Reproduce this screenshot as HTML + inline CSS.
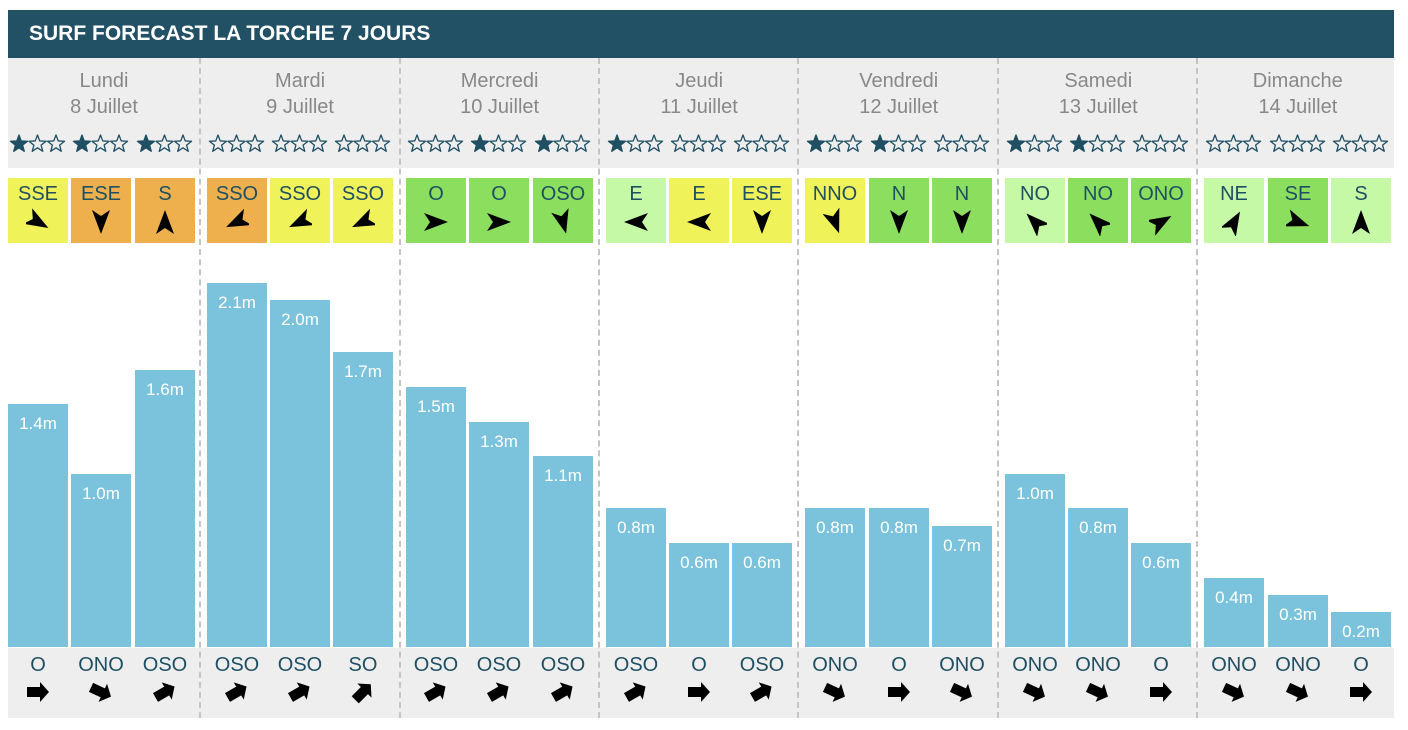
<!DOCTYPE html>
<html><head><meta charset="utf-8"><style>
body{margin:0;width:1408px;height:730px;background:#fff;position:relative;overflow:hidden;font-family:"Liberation Sans",sans-serif}
div{position:absolute;box-sizing:border-box}
.hdr{left:8px;top:10px;width:1386px;height:48px;background:#225064;color:#fff;font-weight:bold;font-size:21px;line-height:48px;padding-left:21px}
.g{background:#eeeeee}
.dn{color:#888;font-size:20px;text-align:center;width:199px}
.bx{width:60px;height:65px;top:178px;color:#1f4f63;font-size:20px;text-align:center;padding-top:5px}
.bar{width:60px;background:#7bc3dc;color:#fff;font-size:17px;text-align:center;padding-top:10px}
.sw{width:60px;color:#1f4f63;font-size:20px;text-align:center;top:654px}
.dv{width:0;border-left:2px dashed #c4c4c4;top:58px;height:660px}
svg{position:absolute}
</style></head><body>
<div class="hdr">SURF FORECAST LA TORCHE 7 JOURS</div>
<div class="g" style="left:8px;top:58px;width:1386px;height:110px"></div>
<div class="g" style="left:8px;top:648px;width:1386px;height:70px"></div>
<script>
const days=[["Lundi","8 Juillet"],["Mardi","9 Juillet"],["Mercredi","10 Juillet"],["Jeudi","11 Juillet"],["Vendredi","12 Juillet"],["Samedi","13 Juillet"],["Dimanche","14 Juillet"]];
const Y="#f0f25a",O="#edb04c",G="#8cde5e",L="#c5f9a6";
const cols=[[Y,O,O],[O,Y,Y],[G,G,G],[L,Y,Y],[Y,G,G],[L,G,G],[L,G,L]];
const stars=[[1,1,1],[0,0,0],[0,1,1],[1,0,0],[1,1,0],[1,1,0],[0,0,0]];
const wind=[["SSE","ESE","S"],["SSO","SSO","SSO"],["O","O","OSO"],["E","E","ESE"],["NNO","N","N"],["NO","NO","ONO"],["NE","SE","S"]];
const wa={SSE:120,ESE:180,S:0,SSO:245,O:90,OSO:165,E:270,NNO:160,N:180,NO:315,ONO:60,NE:30,SE:110};
const h=[[1.4,1.0,1.6],[2.1,2.0,1.7],[1.5,1.3,1.1],[0.8,0.6,0.6],[0.8,0.8,0.7],[1.0,0.8,0.6],[0.4,0.3,0.2]];
const sw=[["O","ONO","OSO"],["OSO","OSO","SO"],["OSO","OSO","OSO"],["OSO","O","OSO"],["ONO","O","ONO"],["ONO","ONO","O"],["ONO","ONO","O"]];
const sa={O:0,ONO:25,OSO:-30,SO:-45};
let sp=[];for(let k=0;k<10;k++){const r=k%2?3.8:9,a=-Math.PI/2+k*Math.PI/5;sp.push((r*Math.cos(a)).toFixed(2)+","+(r*Math.sin(a)).toFixed(2));}
const starPts=sp.join(" ");
let s="";
[200,400,599,798,998,1197].forEach(x=>s+=`<div class="dv" style="left:${x-1}px"></div>`);
for(let d=0;d<7;d++){
 const x0=8+d*199.55;
 s+=`<div class="dn" style="left:${x0+(d?-7:0)}px;top:70px;width:${d?199:192}px">${days[d][0]}</div>`;
 s+=`<div class="dn" style="left:${x0+(d?-7:0)}px;top:96px;width:${d?199:192}px">${days[d][1]}</div>`;
 for(let i=0;i<3;i++){
  const x=Math.round(x0+(d?-1:0)+i*63.3);
  let g="";
  for(let k=0;k<3;k++){const f=k<stars[d][i];g+=`<polygon points="${starPts}" transform="translate(${10+k*18.5},10)" fill="${f?'#1f4f63':'none'}" stroke="#1f4f63" stroke-width="1.3" stroke-linejoin="round"/>`;}
  s+=`<svg style="left:${x+1}px;top:134px" width="60" height="20">${g}</svg>`;
  s+=`<div class="bx" style="left:${x}px;background:${cols[d][i]}">${wind[d][i]}</div>`;
  s+=`<svg style="left:${x+18}px;top:208px" width="24" height="28" viewBox="-12 -14 24 28"><polygon points="0,-12 9,12 0,6 -9,12" fill="#000" transform="rotate(${wa[wind[d][i]]})"/></svg>`;
  const hh=Math.round(h[d][i]*173.3);
  s+=`<div class="bar" style="left:${x}px;top:${647-hh}px;height:${hh}px">${h[d][i].toFixed(1)}m</div>`;
  s+=`<div class="sw" style="left:${x-4}px;width:68px">${sw[d][i]}</div>`;
  s+=`<svg style="left:${x+17}px;top:680px" width="26" height="24" viewBox="-13 -12 26 24"><polygon points="-11,-5 2,-5 2,-10 11,0 2,10 2,5 -11,5" fill="#000" transform="rotate(${sa[sw[d][i]]})"/></svg>`;
 }
}
document.write(s);
</script>
</body></html>
